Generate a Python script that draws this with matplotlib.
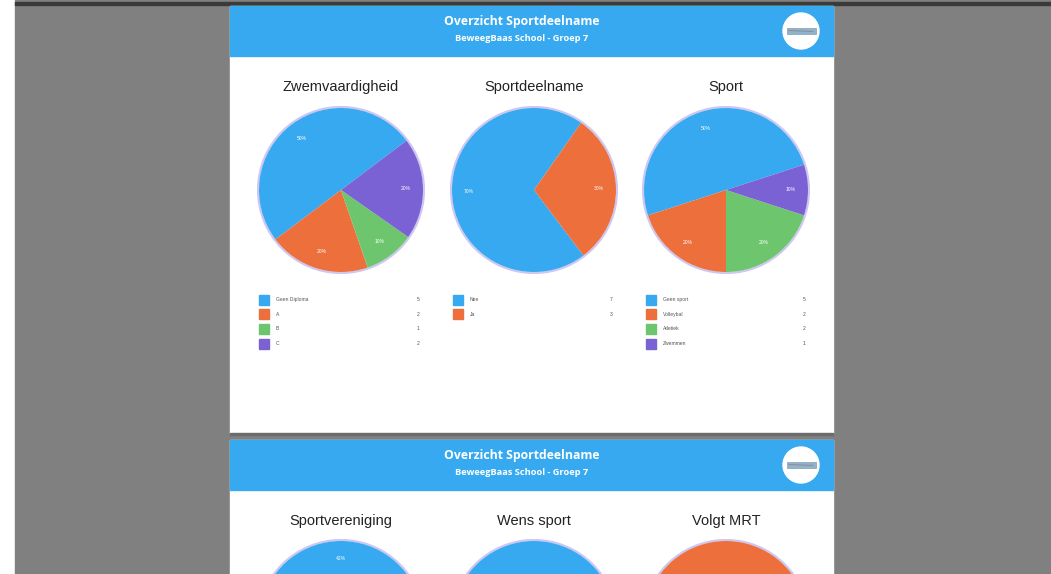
import matplotlib.pyplot as plt
from matplotlib.patches import Rectangle, Circle

# ---------------- data ----------------
colors = ['#36a9f0', '#ed6f3c', '#6dc66d', '#7a62d4']

zwem_labels = ['Geen Diploma', 'A', 'B', 'C']
zwem_values = [5, 2, 1, 2]

deelname_labels = ['Nee', 'Ja']
deelname_values = [7, 3]

sport_labels = ['Geen sport', 'Volleybal', 'Atletiek', 'Zwemmen']
sport_values = [5, 2, 2, 1]

# second page (only the tops are visible)
vereniging_values = [5, 4, 3]
wens_values = [7, 3]
mrt_values = [3, 7]

page_titles = ['Zwemvaardigheid', 'Sportdeelname', 'Sport']
page2_titles = ['Sportvereniging', 'Wens sport', 'Volgt MRT']

W, H = 1051, 574
fig = plt.figure(figsize=(W / 100, H / 100), dpi=100)
bg = fig.add_axes([0, 0, 1, 1])
bg.set_xlim(0, W)
bg.set_ylim(H, 0)
bg.axis('off')

# viewer background
bg.add_patch(Rectangle((0, 0), W, H, color='white'))
bg.add_patch(Rectangle((15, 0), W - 15, H, color='#808080'))
bg.add_patch(Rectangle((15, 1.5), W - 15, 3, color='#3a3a3a'))

px0, px1 = 229.5, 833
head_font = 'Open Sans'


def draw_page(top, bottom):
    bg.add_patch(Rectangle((px0, top), px1 - px0, bottom - top, color='white'))
    bg.add_patch(Rectangle((px0, top), px1 - px0, 50, color='#36a9f0'))
    bg.text(522, top + 15, 'Overzicht Sportdeelname', color='white', fontsize=8.8,
            fontweight='bold', family=head_font, ha='center', va='center')
    bg.text(522, top + 32.5, 'BeweegBaas School - Groep 7', color='white', fontsize=6.7,
            fontweight='bold', family=head_font, ha='center', va='center')
    # logo
    bg.add_patch(Circle((801, top + 25), 18, color='white'))
    bg.add_patch(Rectangle((787, top + 22), 29, 6, facecolor='#8fb4cf', edgecolor='#7a8a99', lw=0.4))
    bg.plot([789, 813], [top + 24.5, top + 25.5], color='#8a8f99', lw=0.8)


draw_page(6, 433)
bg.add_patch(Rectangle((px0, 433), px1 - px0, 2, color='#6c6c6c'))
draw_page(440, H + 5)

centers = [341, 534, 726]
R = 82


def pie(cx, cy, values, start):
    ax = fig.add_axes([(cx - R - 2) / W, 1 - (cy + R + 2) / H, (2 * R + 4) / W, (2 * R + 4) / H])
    s = (R + 2) / R
    ax.add_patch(Circle((0, 0), 1.012, facecolor='none', edgecolor='#b8b0ec', lw=1.6, alpha=0.7))
    wedges, texts, autotexts = ax.pie(values, colors=colors[:len(values)], startangle=start,
                                      counterclock=True, autopct='%1.0f%%', pctdistance=0.79,
                                      wedgeprops=dict(linewidth=0),
                                      textprops=dict(color='white', fontsize=3.6,
                                                     family='Liberation Sans'))
    ax.set_xlim(-s, s)
    ax.set_ylim(-s, s)
    ax.set_aspect('equal')
    ax.axis('off')
    # labels that fall below the visible screen are not shown
    for t in autotexts:
        if ax.transData.transform(t.get_position())[1] < 6:
            t.remove()


# page 1
for cx, title in zip(centers, page_titles):
    bg.text(cx, 87, title, fontsize=10.5, family='Liberation Sans', color='#222222',
            ha='center', va='center')
pie(centers[0], 190, zwem_values, 37)
pie(centers[1], 190, deelname_values, 55)
pie(centers[2], 190, sport_values, 18)

# legends
legend_x = [259, 453, 646]
value_x = [418, 611, 804]
for lx, vx, labels, values in zip(legend_x, value_x,
                                  [zwem_labels, deelname_labels, sport_labels],
                                  [zwem_values, deelname_values, sport_values]):
    for i, (lab, val) in enumerate(zip(labels, values)):
        y = 299.5 + 14.7 * i
        bg.add_patch(Rectangle((lx, y - 5), 10, 10, color=colors[i]))
        bg.text(lx + 17, y, lab, fontsize=3.6, color='#555555', family='Liberation Sans',
                va='center', ha='left')
        bg.text(vx, y, str(val), fontsize=3.6, color='#555555', family='Liberation Sans',
                va='center', ha='center')

# page 2
for cx, title in zip(centers, page2_titles):
    bg.text(cx, 521, title, fontsize=10.5, family='Liberation Sans', color='#222222',
            ha='center', va='center')
pie(centers[0], 623, vereniging_values, 15)
pie(centers[1], 623, wens_values, 30)
pie(centers[2], 623, mrt_values, 150)

fig.savefig('out.png', dpi=100)
